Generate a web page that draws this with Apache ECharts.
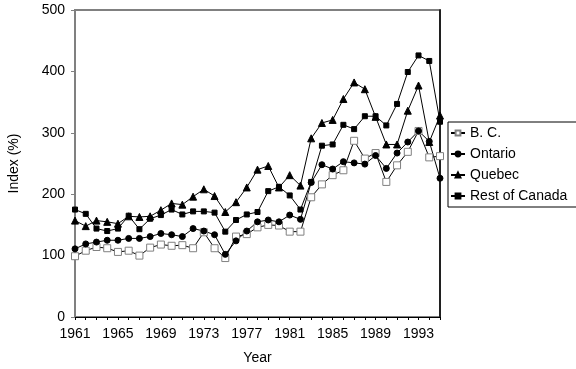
<!DOCTYPE html>
<html>
<head>
<meta charset="utf-8">
<script src="https://cdn.jsdelivr.net/npm/echarts@6/dist/echarts.min.js"></script>
<style>html,body{margin:0;padding:0;background:#fff}#c{width:576px;height:369px}</style>
</head>
<body>
<div id="c"></div>
<script>
const years = [];
for (let y = 1961; y <= 1995; y++) years.push(String(y));
const bc = [99,108,114,112,106,108,100,113,118,116,117,112,138,112,96,131,135,146,150,149,139,139,195,216,231,239,287,258,267,220,247,269,303,260,262];
const ontario = [111,119,122,125,125,128,128,131,136,134,131,144,140,134,102,124,140,155,158,155,166,159,219,248,241,253,251,249,263,242,267,285,303,286,226];
const quebec = [157,148,157,155,152,164,163,164,174,185,183,196,208,197,171,187,211,240,246,211,231,214,291,316,321,355,382,371,326,281,281,336,377,285,328];
const rest = [175,168,144,140,144,165,143,160,166,175,167,172,172,170,139,158,167,171,205,212,198,175,220,279,281,313,306,327,327,312,347,399,426,417,318];
const yTicks = {min: 0, max: 500, step: 100};

const font = 'Liberation Sans, Arial, sans-serif';
const chart = echarts.init(document.getElementById('c'), null, {renderer: 'canvas'});
function line(name, data, symbol, size, fill, border) {
  return {
    name, type: 'line', data, symbol, symbolSize: size, showSymbol: true, showAllSymbol: true,
    lineStyle: {color: '#000', width: 1},
    itemStyle: {color: fill, borderColor: border, borderWidth: 1},
    emphasis: {disabled: true}, animation: false, z: 3
  };
}
chart.setOption({
  animation: false,
  textStyle: {fontFamily: font},
  grid: {left: 75, right: 136, top: 10, bottom: 52, show: true, borderColor: '#808080', borderWidth: 2,
         containLabel: false, outerBoundsMode: 'none'},
  legend: {
    orient: 'vertical', left: 448, top: 122,
    data: ['B. C.', 'Ontario', 'Quebec', 'Rest of Canada'],
    itemWidth: 14, itemHeight: 6, itemGap: 7,
    padding: [4, 10, 4, 2],
    borderColor: '#000', borderWidth: 1,
    textStyle: {fontFamily: font, fontSize: 14, color: '#000'}
  },
  xAxis: {
    type: 'category', data: years, boundaryGap: false,
    name: 'Year', nameLocation: 'middle', nameGap: 34,
    nameTextStyle: {fontFamily: font, fontSize: 14, color: '#000'},
    axisLine: {lineStyle: {color: '#000', width: 1}},
    axisTick: {show: true, interval: 0, length: 3, lineStyle: {color: '#000'}},
    axisLabel: {interval: 3, fontFamily: font, fontSize: 14, color: '#000', margin: 10},
    splitLine: {show: false}
  },
  yAxis: [{
    type: 'value', min: yTicks.min, max: yTicks.max, interval: yTicks.step,
    name: 'Index (%)', nameLocation: 'middle', nameGap: 54,
    nameTextStyle: {fontFamily: font, fontSize: 14, color: '#000'},
    axisLine: {show: true, lineStyle: {color: '#808080', width: 2}},
    axisTick: {show: true, length: 4, lineStyle: {color: '#808080', width: 1}},
    axisLabel: {fontFamily: font, fontSize: 14, color: '#000', margin: 10},
    splitLine: {show: false}
  }, {
    type: 'value', position: 'right', min: yTicks.min, max: yTicks.max, interval: yTicks.step,
    axisLine: {show: true, lineStyle: {color: '#000', width: 1.5}},
    axisTick: {show: false}, axisLabel: {show: false}, splitLine: {show: false}
  }],
  series: [
    line('B. C.', bc, 'rect', 7, '#fff', '#808080'),
    line('Ontario', ontario, 'circle', 6, '#000', '#000'),
    line('Quebec', quebec, 'triangle', 7, '#000', '#000'),
    line('Rest of Canada', rest, 'rect', 5, '#000', '#000')
  ]
});
</script>
</body>
</html>
